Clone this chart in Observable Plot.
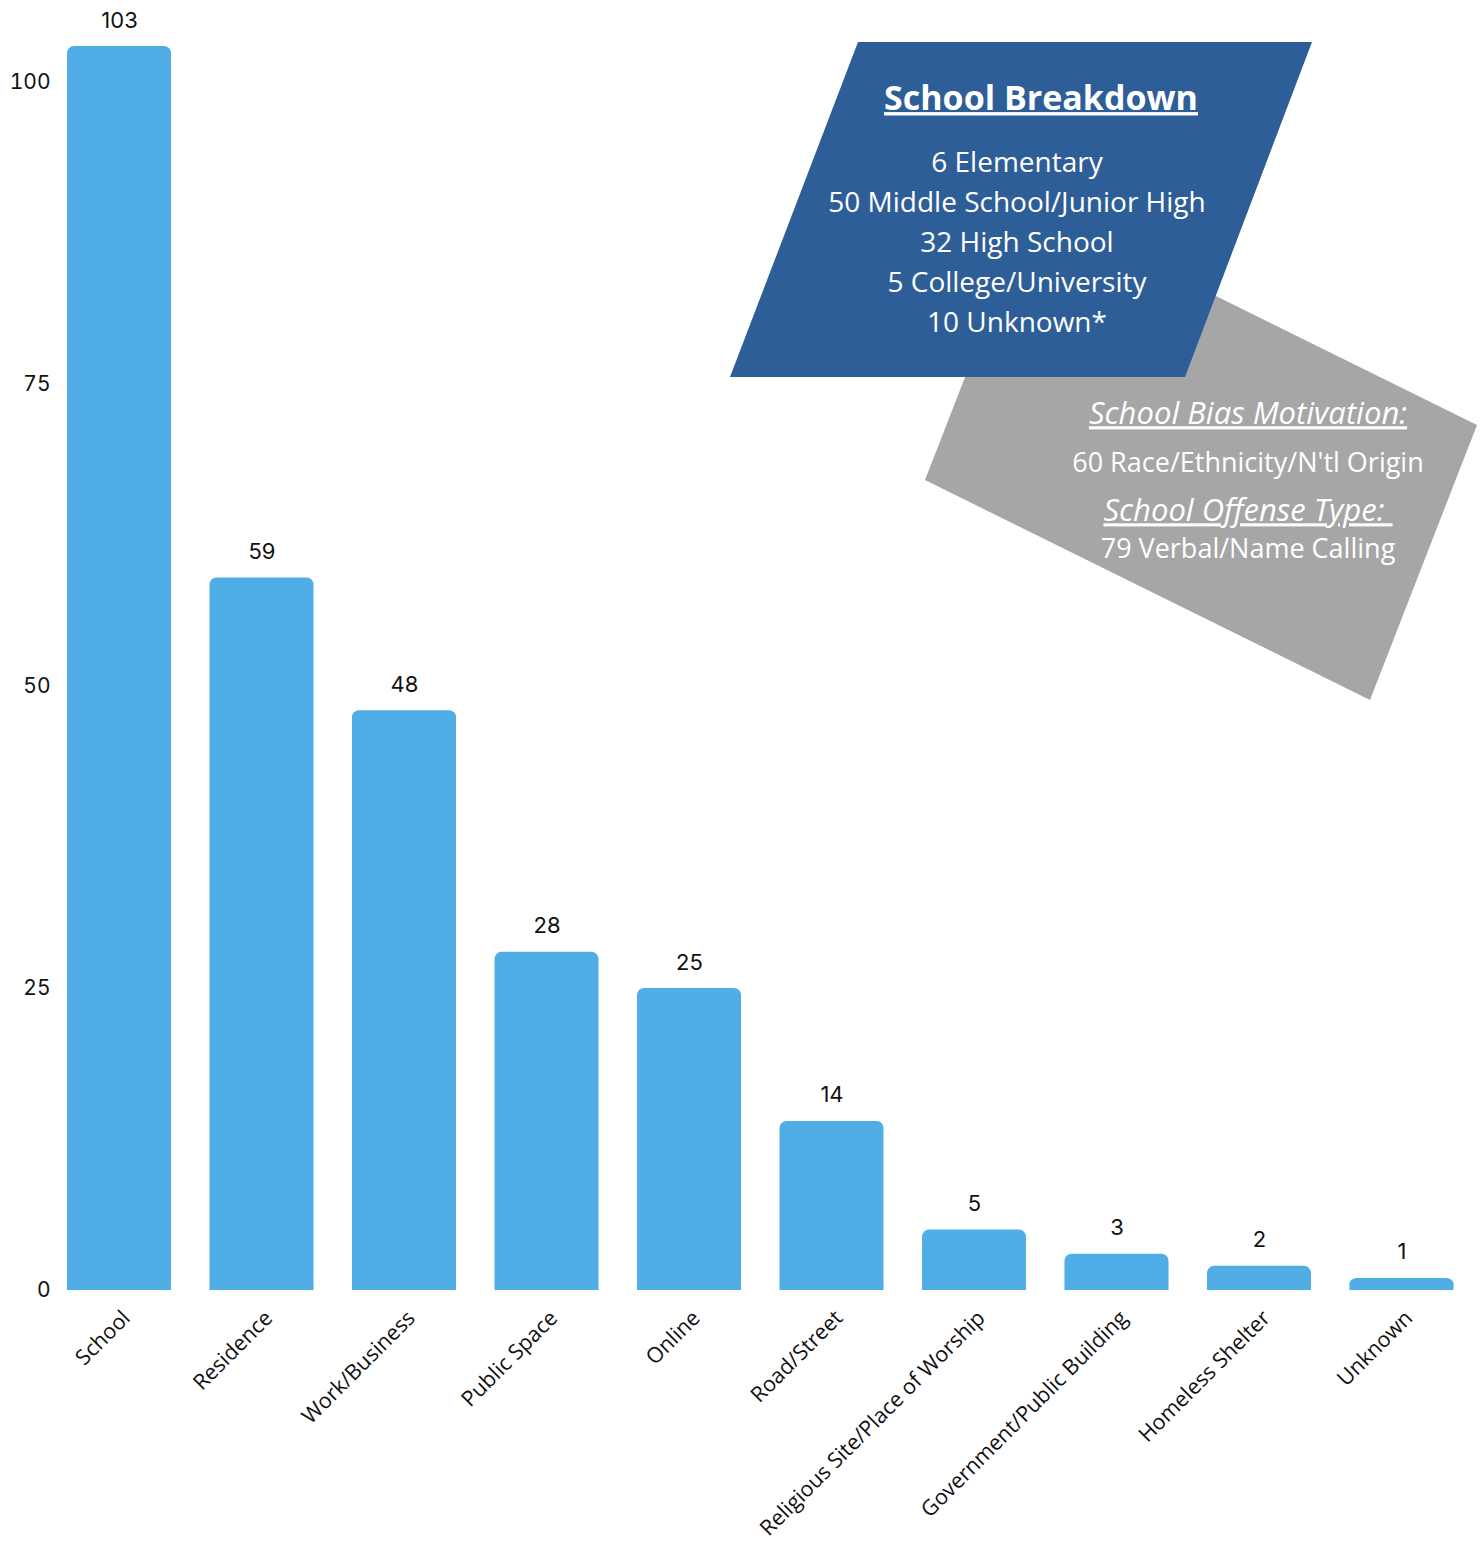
<!DOCTYPE html>
<html>
<head>
<meta charset="utf-8">
<script src="https://cdn.jsdelivr.net/npm/d3@7"></script>
<script src="https://cdn.jsdelivr.net/npm/@observablehq/plot@0.6"></script>
<style>
  html, body { margin: 0; padding: 0; background: #ffffff; }
  #chart { position: relative; width: 1481px; height: 1545px; }
</style>
</head>
<body>
<div id="chart"></div>
<script>
// ---- Data ----
const locations = ["School", "Residence", "Work/Business", "Public Space", "Online", "Road/Street",
  "Religious Site/Place of Worship", "Government/Public Building", "Homeless Shelter", "Unknown"];
const counts = [103, 59, 48, 28, 25, 14, 5, 3, 2, 1];
const yTicks = [0, 25, 50, 75, 100];

const schoolTitle = "School Breakdown";
const schoolLines = ["6 Elementary", "50 Middle School/Junior High", "32 High School", "5 College/University", "10 Unknown*"];
const biasTitle = "School Bias Motivation:";
const biasLine = "60 Race/Ethnicity/N'tl Origin";
const offenseTitle = "School Offense Type: ";
const offenseLine = "79 Verbal/Name Calling";

const data = locations.map((loc, i) => ({loc, value: counts[i]}));

const BAR = "#51ADE5";
const W = 1481, H = 1545;

const chart = Plot.plot({
  width: W,
  height: H,
  marginLeft: 67,
  marginRight: 27.5,
  marginTop: 46,
  marginBottom: 255,
  style: {fontFamily: "Inter, sans-serif", fontSize: "20px", color: "#111", background: "#ffffff"},
  x: {domain: locations, paddingInner: 0.27, paddingOuter: 0, round: false, label: null},
  y: {domain: [0, 103], label: null},
  marks: [
    Plot.axisY({ticks: yTicks, tickSize: 0, tickPadding: 17, fontSize: 21, label: null, fontFamily: "Inter, sans-serif"}),
    Plot.axisX({tickSize: 0, tickPadding: 24, dx: 7, tickRotate: -45, fontSize: 21.5, label: null, fontFamily: "'Open Sans', sans-serif"}),
    Plot.barY(data, {x: "loc", y: "value", fill: BAR, rx: 7}),
    Plot.barY(data, {x: "loc", y1: 0, y2: d => Math.min(d.value, 0.55), fill: BAR}),
    Plot.text(data, {x: "loc", y: "value", text: d => String(d.value), dy: -26, fontSize: 22, fill: "#111", fontFamily: "Inter, sans-serif"})
  ]
});

document.getElementById("chart").appendChild(chart);

// ---- Annotation callouts ----
const svg = d3.select(chart);
const ann = svg.append("g").attr("class", "annotations");

// gray rotated box (drawn first, beneath blue)
ann.append("polygon")
  .attr("points", [[1032, 205], [1477, 425], [1370, 700], [925, 480]].map(p => p.join(",")).join(" "))
  .attr("fill", "#A6A6A6");

// blue parallelogram
ann.append("polygon")
  .attr("points", [[858, 42], [1312, 42], [1185, 377], [730, 377]].map(p => p.join(",")).join(" "))
  .attr("fill", "#2E5E97");

const sans = "'Open Sans', sans-serif";
ann.append("text")
  .attr("x", 1041).attr("y", 101)
  .attr("text-anchor", "middle").attr("dominant-baseline", "middle")
  .attr("fill", "#fff").attr("font-family", sans).attr("font-weight", 700)
  .attr("font-size", 34).style("text-decoration", "underline")
  .text(schoolTitle);

schoolLines.forEach((t, i) => {
  ann.append("text")
    .attr("x", 1017).attr("y", 165 + i * 40)
    .attr("text-anchor", "middle").attr("dominant-baseline", "middle")
    .attr("fill", "#fff").attr("font-family", sans)
    .attr("font-size", 28)
    .text(t);
});

ann.append("text")
  .attr("x", 1248).attr("y", 416)
  .attr("text-anchor", "middle").attr("dominant-baseline", "middle")
  .attr("fill", "#fff").attr("font-family", sans).attr("font-style", "italic")
  .attr("font-size", 31).style("text-decoration", "underline")
  .text(biasTitle);

ann.append("text")
  .attr("x", 1248).attr("y", 465)
  .attr("text-anchor", "middle").attr("dominant-baseline", "middle")
  .attr("fill", "#fff").attr("font-family", sans)
  .attr("font-size", 27)
  .text(biasLine);

ann.append("text")
  .attr("x", 1248).attr("y", 513)
  .attr("text-anchor", "middle").attr("dominant-baseline", "middle")
  .attr("fill", "#fff").attr("font-family", sans).attr("font-style", "italic")
  .attr("font-size", 31).style("text-decoration", "underline")
  .attr("xml:space", "preserve")
  .text(offenseTitle);

ann.append("text")
  .attr("x", 1248).attr("y", 551)
  .attr("text-anchor", "middle").attr("dominant-baseline", "middle")
  .attr("fill", "#fff").attr("font-family", sans)
  .attr("font-size", 27)
  .text(offenseLine);
</script>
</body>
</html>
